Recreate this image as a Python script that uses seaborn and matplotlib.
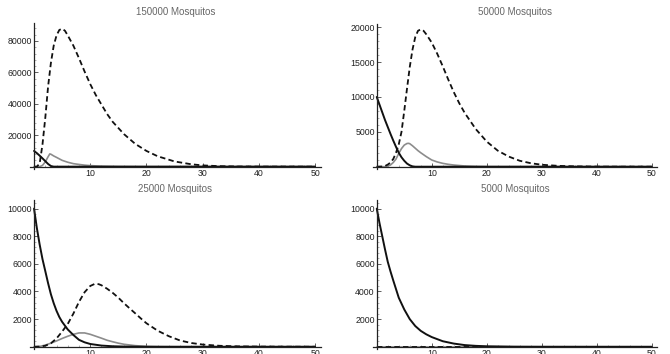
import matplotlib
matplotlib.use("Agg")
import matplotlib.pyplot as plt
import seaborn as sns
from matplotlib.ticker import FixedLocator, AutoMinorLocator

sns.set_style("white")
plt.rcParams["font.family"] = ["Liberation Sans", "DejaVu Sans"]

titles = ["150000 Mosquitos", "50000 Mosquitos", "25000 Mosquitos", "5000 Mosquitos"]

# ---- 150000 mosquitos ----
m150_s_x = [0, 0.5, 1, 1.5, 2, 2.5, 3, 3.5, 50]
m150_s_y = [10000, 8600, 7000, 5300, 3500, 1700, 400, 0, 0]
m150_i_x = [0, 0.5, 1, 1.5, 2, 2.5, 3, 3.5, 4, 4.5, 5, 5.5, 6, 7, 8, 9, 10, 11, 12, 13, 14,
            16, 18, 20, 22, 25, 28, 30, 33, 36, 40, 50]
m150_i_y = [0, 0, 2000, 14000, 31000, 51000, 66000, 77000, 83500, 87000, 87800, 86500, 83500,
            77000, 69000, 60500, 52500, 45500, 39500, 33500, 28500, 20700, 14500, 10000, 6600,
            3300, 1500, 800, 300, 100, 20, 0]
m150_r_x = [0, 1, 1.5, 2, 2.5, 2.8, 3, 3.5, 4, 5, 6, 7, 8, 9, 10, 12, 15, 20, 50]
m150_r_y = [0, 0, 800, 3000, 6300, 8100, 7900, 6800, 5900, 4000, 2800, 1900, 1400, 950, 650,
            300, 80, 0, 0]

# ---- 50000 mosquitos ----
m50_s_x = [0, 0.5, 1, 1.5, 2, 2.5, 3, 3.5, 4, 4.5, 5, 5.5, 6, 6.5, 7, 50]
m50_s_y = [10000, 8900, 7800, 6700, 5700, 4700, 3750, 2850, 2000, 1350, 850, 450, 200, 50, 0, 0]
m50_i_x = [0, 1, 1.5, 2, 2.5, 3, 3.5, 4, 4.5, 5, 5.5, 6, 6.5, 7, 7.5, 8, 8.5, 9, 10, 11, 12,
           13, 14, 15, 16, 18, 20, 22, 24, 26, 28, 30, 33, 36, 40, 50]
m50_i_y = [0, 30, 100, 300, 600, 1100, 2000, 3200, 5000, 8000, 11200, 14300, 16800, 18600,
           19500, 19700, 19500, 19000, 17800, 16200, 14400, 12500, 10700, 9100, 7700, 5400,
           3600, 2300, 1450, 850, 500, 280, 120, 50, 10, 0]
m50_r_x = [0, 1.5, 2, 2.5, 3, 3.5, 4, 4.5, 5, 5.5, 5.8, 6, 6.5, 7, 7.5, 8, 9, 10, 11, 12, 13,
           14, 16, 18, 20, 50]
m50_r_y = [0, 0, 80, 250, 600, 1100, 1900, 2600, 3100, 3330, 3350, 3300, 3000, 2650, 2300,
           2000, 1450, 960, 680, 480, 340, 240, 100, 40, 10, 0]

# ---- 25000 mosquitos ----
m25_s_x = [0, 0.5, 1, 1.5, 2, 2.5, 3, 3.5, 4, 4.5, 5, 6, 7, 8, 9, 10, 12, 14, 16, 20, 50]
m25_s_y = [10000, 8600, 7400, 6350, 5480, 4600, 3800, 3150, 2600, 2150, 1800, 1250, 850, 500,
           320, 200, 85, 35, 15, 0, 0]
m25_i_x = [0, 1, 2, 3, 4, 5, 6, 7, 8, 9, 10, 10.8, 11.5, 12, 13, 14, 15, 16, 17, 18, 19, 20,
           22, 24, 26, 28, 30, 33, 36, 40, 50]
m25_i_y = [0, 15, 70, 250, 600, 1100, 1650, 2400, 3250, 3950, 4400, 4550, 4530, 4450, 4200,
           3900, 3550, 3150, 2780, 2420, 2050, 1700, 1160, 760, 450, 270, 160, 70, 30, 10, 0]
m25_r_x = [0, 1, 2, 3, 4, 5, 6, 7, 8, 9, 10, 11, 12, 13, 14, 15, 16, 18, 20, 22, 25, 50]
m25_r_y = [0, 20, 120, 260, 420, 600, 760, 900, 1000, 1000, 900, 760, 620, 470, 360, 260,
           180, 80, 30, 10, 0, 0]

# ---- 5000 mosquitos ----
m5_s_x = [0, 0.5, 1, 1.5, 2, 2.5, 3, 4, 5, 6, 7, 8, 9, 10, 12, 14, 16, 18, 20, 25, 30, 50]
m5_s_y = [10000, 8950, 8000, 7050, 6150, 5450, 4800, 3550, 2700, 2000, 1500, 1150, 900, 700,
          400, 230, 120, 65, 35, 8, 2, 0]
m5_i_x = [0, 50]
m5_i_y = [0, 0]
m5_r_x = [0, 50]
m5_r_y = [0, 0]

panels = [
    (m150_s_x, m150_s_y, m150_i_x, m150_i_y, m150_r_x, m150_r_y),
    (m50_s_x, m50_s_y, m50_i_x, m50_i_y, m50_r_x, m50_r_y),
    (m25_s_x, m25_s_y, m25_i_x, m25_i_y, m25_r_x, m25_r_y),
    (m5_s_x, m5_s_y, m5_i_x, m5_i_y, m5_r_x, m5_r_y),
]
y_ticks = [
    [20000, 40000, 60000, 80000],
    [5000, 10000, 15000, 20000],
    [2000, 4000, 6000, 8000, 10000],
    [2000, 4000, 6000, 8000, 10000],
]
y_limits = [(-1500, 91300), (-330, 20500), (-170, 10600), (-170, 10600)]

W, H = 670, 354
# axes boxes in pixels: left, top, width, height
boxes = [
    (30.1, 23.2, 290.6, 145.8),
    (372.9, 23.8, 284.4, 145.2),
    (30.1, 200.3, 290.6, 148.8),
    (372.9, 200.3, 284.4, 148.8),
]

fig = plt.figure(figsize=(W / 100, H / 100), dpi=100)

for k in range(4):
    l, t, w, h = boxes[k]
    ax = fig.add_axes([l / W, 1 - (t + h) / H, w / W, h / H])
    sx, sy, ix, iy, rx, ry = panels[k]

    sns.lineplot(x=rx, y=ry, ax=ax, color="#8c8c8c", lw=1.2, estimator=None, sort=False)
    sns.lineplot(x=ix, y=iy, ax=ax, color="#111111", lw=1.3, estimator=None, sort=False,
                 linestyle=(0, (3, 1.8)))
    sns.lineplot(x=sx, y=sy, ax=ax, color="#111111", lw=1.4, estimator=None, sort=False)

    ax.set_xlim(-0.7, 51)
    ax.set_ylim(*y_limits[k])
    ax.spines["top"].set_visible(False)
    ax.spines["right"].set_visible(False)
    ax.spines["left"].set_position(("data", 0))
    ax.spines["bottom"].set_position(("data", 0))
    for s in ["left", "bottom"]:
        ax.spines[s].set_color("#222222")
        ax.spines[s].set_linewidth(0.9)

    ax.xaxis.set_major_locator(FixedLocator([10, 20, 30, 40, 50]))
    ax.yaxis.set_major_locator(FixedLocator(y_ticks[k]))
    ax.xaxis.set_minor_locator(FixedLocator([v for v in range(2, 51, 2) if v % 10]))
    ax.yaxis.set_minor_locator(AutoMinorLocator(5))
    ax.tick_params(which="major", direction="in", length=3, width=0.6, color="#444444",
                   labelsize=6.3, labelcolor="#222222", pad=1.5)
    ax.tick_params(which="minor", direction="in", length=1.5, width=0.4, color="#777777")
    ax.tick_params(axis="x", which="both", bottom=True)
    ax.tick_params(axis="y", which="both", left=True)
    ax.set_xlabel("")
    ax.set_ylabel("")
    ax.set_title(titles[k], fontsize=7, color="#666666", pad=6)

fig.savefig("out.png", dpi=100)
